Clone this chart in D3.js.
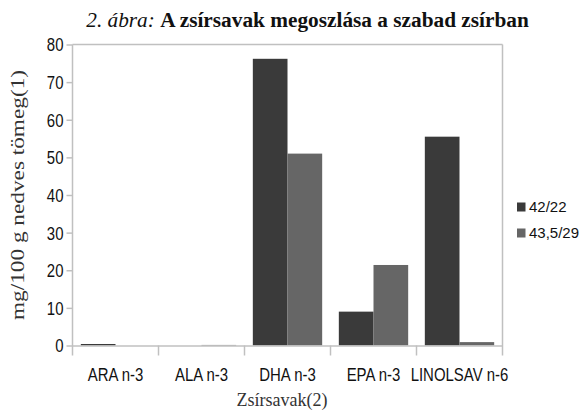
<!DOCTYPE html>
<html><head><meta charset="utf-8">
<script src="https://cdn.jsdelivr.net/npm/d3@7"></script>
<style>body{margin:0;background:#fff}</style>
</head><body>
<svg id="c" width="580" height="412"></svg>
<script>
const categories = ["ARA n-3","ALA n-3","DHA n-3","EPA n-3","LINOLSAV n-6"];
const seriesNames = ["42/22","43,5/29"];
const series1 = [0.4, 0, 76.2, 9.0, 55.5];
const series2 = [0, 0.15, 51.0, 21.4, 0.9];
const yTicks = [0,10,20,30,40,50,60,70,80];
const colors = ["#3a3a3a","#666666"];

const svg = d3.select("#c");
const L=72.5, R=502.5, T=44.5, B=345.5;
const tickFont = "'Liberation Sans',Arial,sans-serif";
const serif = "'Liberation Serif','Times New Roman',serif";

// condense text horizontally (narrow font look)
function condense(sel, f){
  sel.each(function(){
    const w = this.getComputedTextLength();
    d3.select(this).attr("textLength", w*f).attr("lengthAdjust","spacingAndGlyphs");
  });
}

const x = d3.scaleBand().domain(categories).range([L,R]).paddingInner(0).paddingOuter(0);
const y = d3.scaleLinear().domain([0,80]).range([B,T]);
const bw = x.bandwidth();
const xs = d3.scaleBand().domain([0,1]).range([0,bw]).paddingInner(0).paddingOuter(0.24);

// frame top and right
svg.append("line").attr("x1",L).attr("x2",R).attr("y1",T).attr("y2",T).attr("stroke","#c0c0c0").attr("stroke-width",1.5);
svg.append("line").attr("x1",R).attr("x2",R).attr("y1",T).attr("y2",B+10).attr("stroke","#c0c0c0").attr("stroke-width",1.5);

// bars
const data = [series1, series2];
data.forEach((s,si)=>{
  svg.append("g").selectAll("rect").data(categories).join("rect")
    .attr("x",d=>x(d)+xs(si))
    .attr("width",xs.bandwidth())
    .attr("y",(d,i)=>y(s[i]))
    .attr("height",(d,i)=>B-y(s[i]))
    .attr("fill",colors[si]);
});

// y axis
const ya = svg.append("g").attr("transform",`translate(${L},0)`)
  .call(d3.axisLeft(y).tickValues(yTicks).tickSize(6).tickPadding(3));
ya.select(".domain").attr("stroke","#c0c0c0").attr("stroke-width",1.5).attr("d",`M0,${T}V${B+10}`);
ya.selectAll(".tick line").attr("stroke","#c0c0c0").attr("stroke-width",1.5);
ya.selectAll("text").attr("font-family",tickFont).attr("font-size",18).attr("fill","#111").attr("dy","0.36em")
  .call(condense, 0.83);

// x axis
const xa = svg.append("g").attr("transform",`translate(0,${B})`)
  .call(d3.axisBottom(x).tickSize(0).tickPadding(23));
xa.select(".domain").attr("stroke","#c0c0c0").attr("stroke-width",1.5);
xa.selectAll("text").attr("font-family",tickFont).attr("font-size",18).attr("fill","#111")
  .call(condense, 0.83);
// category separator ticks
svg.append("g").selectAll("line").data(categories.slice(1)).join("line")
  .attr("x1",d=>x(d)).attr("x2",d=>x(d)).attr("y1",B).attr("y2",B+10)
  .attr("stroke","#c0c0c0").attr("stroke-width",1.5);

// title
const t = svg.append("text").attr("x",307.5).attr("y",27).attr("text-anchor","middle")
  .attr("font-family",serif).attr("font-size",21.3).attr("fill","#111");
t.append("tspan").attr("font-style","italic").text("2. ábra: ");
t.append("tspan").attr("font-weight","bold").text("A zsírsavak megoszlása a szabad zsírban");

// axis titles
svg.append("text").attr("x",282).attr("y",406).attr("text-anchor","middle")
  .attr("font-family",serif).attr("font-size",18).attr("fill","#333").text("Zsírsavak(2)");
svg.append("text").attr("transform","translate(24,195) rotate(-90)").attr("text-anchor","middle")
  .attr("font-family",serif).attr("font-size",18).attr("fill","#333")
  .attr("textLength",250).attr("lengthAdjust","spacingAndGlyphs")
  .text("mg/100 g nedves tömeg(1)");

// legend
seriesNames.forEach((n,i)=>{
  const ly = 207 + i*26;
  svg.append("rect").attr("x",517).attr("y",ly-4.5).attr("width",8.5).attr("height",9).attr("fill",colors[i]);
  svg.append("text").attr("x",529).attr("y",ly).attr("dy","0.36em")
    .attr("font-family",tickFont).attr("font-size",15).attr("fill","#111").text(n);
});
</script>
</body></html>
